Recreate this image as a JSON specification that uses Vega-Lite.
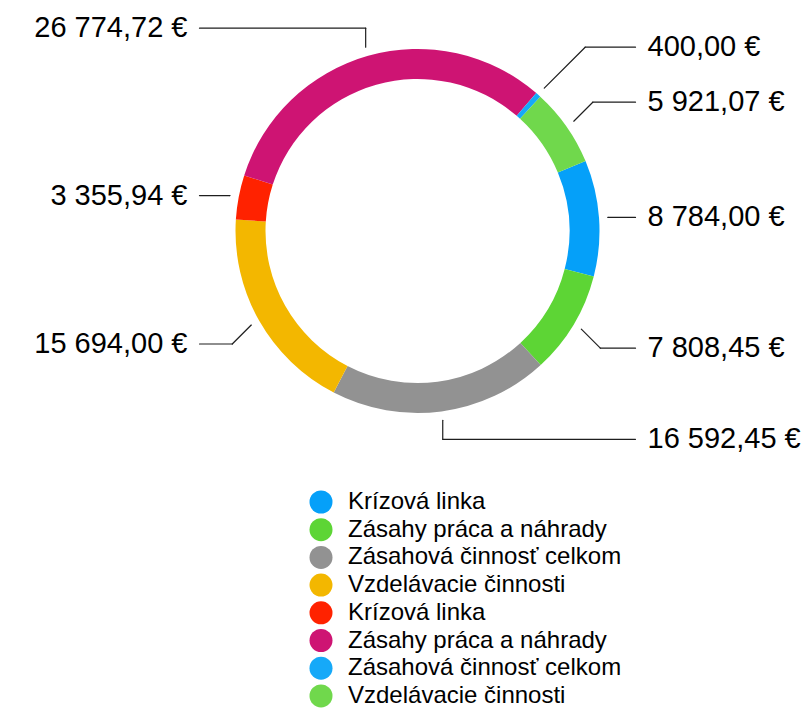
{
  "$schema": "https://vega.github.io/schema/vega-lite/v6.json",
  "width": 781,
  "height": 462,
  "padding": {"left": 27, "top": 0, "right": 0, "bottom": 247},
  "autosize": {"type": "none"},
  "background": "white",
  "config": {
    "view": {"stroke": null},
    "font": "Liberation Sans",
    "locale": {
      "number": {"decimal": ",", "thousands": " ", "grouping": [3], "currency": ["", " €"]}
    }
  },
  "data": {
    "values": [
      {"idx": 1, "name": "Krízová linka", "value": 8784.00},
      {"idx": 2, "name": "Zásahy práca a náhrady", "value": 7808.45},
      {"idx": 3, "name": "Zásahová činnosť celkom", "value": 16592.45},
      {"idx": 4, "name": "Vzdelávacie činnosti", "value": 15694.00},
      {"idx": 5, "name": "Krízová linka", "value": 3355.94},
      {"idx": 6, "name": "Zásahy práca a náhrady", "value": 26774.72},
      {"idx": 7, "name": "Zásahová činnosť celkom", "value": 400.00},
      {"idx": 8, "name": "Vzdelávacie činnosti", "value": 5921.07}
    ]
  },
  "transform": [
    {"calculate": "datum.idx + '|' + datum.name", "as": "key"},
    {"joinaggregate": [{"op": "sum", "field": "value", "as": "total"}]},
    {"window": [{"op": "sum", "field": "value", "as": "cum"}], "sort": [{"field": "idx", "order": "ascending"}], "frame": [null, 0]},
    {"calculate": "1.1764 + 2 * PI * (datum.cum - datum.value / 2) / datum.total", "as": "mid"},
    {"calculate": "round(datum.mid / (PI / 4)) * (PI / 4)", "as": "snap"},
    {"calculate": "round(sin(datum.snap))", "as": "dxDir"},
    {"calculate": "round(cos(datum.snap))", "as": "dyDir"},
    {"calculate": "191 * sin(datum.mid)", "as": "p1x"},
    {"calculate": "-191 * cos(datum.mid)", "as": "p1y"},
    {"calculate": "datum.p1y - 19 * datum.dyDir", "as": "y0"},
    {"calculate": "datum.p1x >= 0 ? 1 : -1", "as": "side"},
    {"window": [{"op": "lead", "field": "y0", "as": "nextY"}], "groupby": ["side"], "sort": [{"field": "y0", "order": "ascending"}]},
    {"calculate": "isValid(datum.nextY) ? min(datum.y0, datum.nextY - 55) : datum.y0", "as": "yl"},
    {"calculate": "datum.p1x + datum.dxDir * abs(datum.p1y - datum.yl)", "as": "p2x"},
    {"calculate": "datum.side * 218", "as": "p3x"},
    {"calculate": "datum.side * 230", "as": "lx"}
  ],
  "layer": [
    {
      "mark": {"type": "arc", "outerRadius": 182, "innerRadius": 152},
      "encoding": {
        "theta": {"field": "value", "type": "quantitative", "stack": true, "scale": {"range": [1.1764, 7.4596]}},
        "order": {"field": "idx", "type": "quantitative"},
        "color": {
          "field": "key",
          "type": "nominal",
          "scale": {"range": ["#05A0F9", "#5DD535", "#929292", "#F3B700", "#FF2200", "#CE1473", "#16A9F8", "#70D84C"]},
          "legend": {
            "orient": "none",
            "legendX": 282,
            "legendY": 490,
            "title": null,
            "padding": 0,
            "labelExpr": "split(datum.value, '|')[1]",
            "labelFont": "Liberation Sans",
            "labelFontSize": 24,
            "labelColor": "#000000",
            "labelLimit": 0,
            "labelOffset": 15,
            "symbolType": "circle",
            "symbolSize": 529,
            "symbolStrokeWidth": 0,
            "symbolOpacity": 1,
            "rowPadding": 3.7
          }
        }
      }
    },
    {
      "mark": {"type": "rule", "stroke": "#1e1e1e", "strokeWidth": 1.2, "strokeCap": "round"},
      "encoding": {
        "x": {"field": "p1x", "type": "quantitative", "scale": {"domain": [-390.5, 390.5], "nice": false, "zero": false}, "axis": null},
        "y": {"field": "p1y", "type": "quantitative", "scale": {"domain": [-231, 231], "nice": false, "zero": false, "reverse": true}, "axis": null},
        "x2": {"field": "p2x"},
        "y2": {"field": "yl"}
      }
    },
    {
      "mark": {"type": "rule", "stroke": "#1e1e1e", "strokeWidth": 1.2, "strokeCap": "round"},
      "encoding": {
        "x": {"field": "p2x", "type": "quantitative"},
        "y": {"field": "yl", "type": "quantitative"},
        "x2": {"field": "p3x"}
      }
    },
    {
      "transform": [{"filter": "datum.side > 0"}],
      "mark": {"type": "text", "align": "left", "baseline": "middle", "fontSize": 29, "color": "#000000", "font": "Liberation Sans"},
      "encoding": {
        "x": {"field": "lx", "type": "quantitative"},
        "y": {"field": "yl", "type": "quantitative"},
        "text": {"field": "value", "type": "quantitative", "format": "$,.2f"}
      }
    },
    {
      "transform": [{"filter": "datum.side < 0"}],
      "mark": {"type": "text", "align": "right", "baseline": "middle", "fontSize": 29, "color": "#000000", "font": "Liberation Sans"},
      "encoding": {
        "x": {"field": "lx", "type": "quantitative"},
        "y": {"field": "yl", "type": "quantitative"},
        "text": {"field": "value", "type": "quantitative", "format": "$,.2f"}
      }
    }
  ]
}
